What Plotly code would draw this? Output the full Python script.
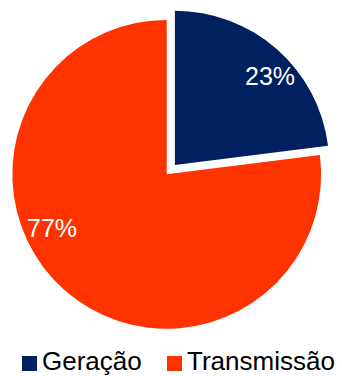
import plotly.graph_objects as go

# Share of each segment (%)
categories = ["Geração", "Transmissão"]
shares = [23, 77]
colors = ["#002060", "#FF3300"]
pulls = [0.08, 0]

# Where each percentage label sits (paper coordinates)
label_x = [0.789, 0.152]
label_y = [0.798, 0.394]

W, H = 342, 376

fig = go.Figure(
    go.Pie(
        labels=categories,
        values=shares,
        marker=dict(colors=colors, line=dict(width=0)),
        pull=pulls,
        sort=False,
        direction="clockwise",
        rotation=0,
        textinfo="none",
        domain=dict(x=[0, 0.975], y=[0.0915, 0.981]),
        hoverinfo="label+percent",
        showlegend=False,
    )
)

for v, x, y in zip(shares, label_x, label_y):
    fig.add_annotation(
        x=x, y=y, xref="paper", yref="paper",
        text=f"{v}%", showarrow=False,
        xanchor="center", yanchor="middle",
        font=dict(color="white", size=25, family="Liberation Sans, Arial"),
    )

# Legend row under the pie: a coloured square followed by the category name
legend_x = [22, 167]  # left edge of each square, px
sq_top, sq_bottom = 356, 371
for name, color, lx in zip(categories, colors, legend_x):
    fig.add_shape(
        type="rect", xref="paper", yref="paper",
        x0=lx / W, x1=(lx + 15) / W,
        y0=1 - sq_bottom / H, y1=1 - sq_top / H,
        fillcolor=color, line=dict(width=0),
    )
    fig.add_annotation(
        x=(lx + 18) / W, y=1 - 360.5 / H, xref="paper", yref="paper",
        text=name, showarrow=False,
        xanchor="left", yanchor="middle",
        font=dict(color="#000000", size=26, family="Liberation Sans, Arial"),
    )

fig.update_layout(
    width=W,
    height=H,
    margin=dict(l=0, r=0, t=0, b=0),
    paper_bgcolor="white",
    plot_bgcolor="white",
    font=dict(family="Liberation Sans, Arial", color="#000000"),
    showlegend=False,
)

fig.write_html("out.html")
